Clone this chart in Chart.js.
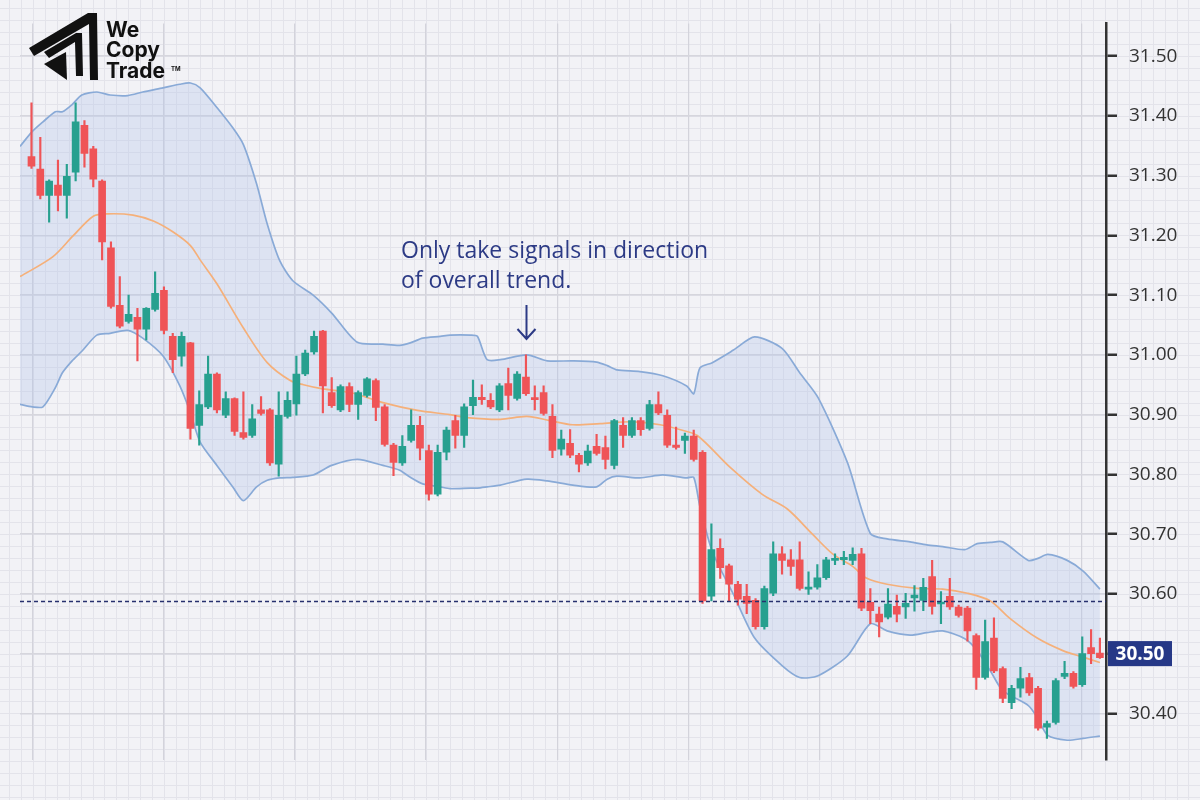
<!DOCTYPE html>
<html>
<head>
<meta charset="utf-8">
<title>Bollinger Bands – trend signals</title>
<script src="https://cdn.jsdelivr.net/npm/chart.js@4.4.1/dist/chart.umd.min.js"></script>
<style>
  html, body { margin: 0; padding: 0; background: #f2f2f6; }
  #wrap { width: 1200px; height: 800px; }
</style>
</head>
<body>
<div id="wrap"><canvas id="chart" width="1200" height="800"></canvas></div>
<script>
/* ---------- candle data (one entry per bar) ---------- */
const OPEN = [
  31.332, 31.311, 31.267, 31.284, 31.267, 31.306, 31.384, 31.345, 31.291, 31.179,
  31.083, 31.056, 31.063, 31.043, 31.076, 31.108, 31.031, 30.998, 31.020, 30.882,
  30.913, 30.968, 30.899, 30.927, 30.870, 30.865, 30.908, 30.908, 30.817, 30.897,
  30.918, 30.968, 31.005, 31.040, 30.937, 30.908, 30.947, 30.917, 30.932, 30.957,
  30.913, 30.849, 30.819, 30.857, 30.882, 30.840, 30.767, 30.837, 30.890, 30.865,
  30.915, 30.929, 30.924, 30.908, 30.952, 30.927, 30.963, 30.927, 30.937, 30.897,
  30.842, 30.852, 30.832, 30.819, 30.847, 30.845, 30.815, 30.882, 30.865, 30.890,
  30.877, 30.917, 30.899, 30.849, 30.857, 30.864, 30.837, 30.596, 30.676, 30.647,
  30.616, 30.596, 30.589, 30.545, 30.601, 30.667, 30.657, 30.657, 30.608, 30.611,
  30.627, 30.656, 30.657, 30.656, 30.667, 30.586, 30.566, 30.561, 30.579, 30.578,
  30.593, 30.589, 30.629, 30.583, 30.596, 30.578, 30.576, 30.530, 30.460, 30.526,
  30.475, 30.418, 30.442, 30.460, 30.442, 30.377, 30.385, 30.462, 30.467, 30.448,
  30.510, 30.501
];
const HIGH = [
  31.422, 31.364, 31.293, 31.326, 31.319, 31.422, 31.392, 31.349, 31.293, 31.189,
  31.131, 31.100, 31.078, 31.079, 31.139, 31.114, 31.036, 31.038, 31.021, 30.940,
  30.998, 30.970, 30.938, 30.928, 30.938, 30.917, 30.930, 30.910, 30.938, 30.938,
  30.998, 31.008, 31.040, 31.041, 30.962, 30.950, 30.953, 30.940, 30.962, 30.960,
  30.917, 30.852, 30.865, 30.908, 30.897, 30.849, 30.849, 30.879, 30.899, 30.918,
  30.958, 30.950, 30.935, 30.952, 30.978, 30.972, 31.000, 30.948, 30.948, 30.917,
  30.874, 30.875, 30.835, 30.849, 30.867, 30.864, 30.892, 30.895, 30.895, 30.895,
  30.924, 30.938, 30.908, 30.879, 30.869, 30.874, 30.840, 30.717, 30.692, 30.650,
  30.621, 30.616, 30.592, 30.613, 30.687, 30.679, 30.674, 30.687, 30.637, 30.649,
  30.661, 30.667, 30.671, 30.677, 30.676, 30.609, 30.578, 30.609, 30.598, 30.601,
  30.614, 30.626, 30.656, 30.604, 30.626, 30.581, 30.579, 30.533, 30.556, 30.560,
  30.478, 30.447, 30.477, 30.467, 30.445, 30.387, 30.458, 30.487, 30.470, 30.528,
  30.540, 30.526
];
const LOW = [
  31.312, 31.261, 31.222, 31.241, 31.229, 31.291, 31.314, 31.281, 31.159, 31.078,
  31.045, 31.053, 30.990, 31.025, 31.073, 31.035, 30.970, 30.981, 30.859, 30.849,
  30.910, 30.903, 30.895, 30.865, 30.859, 30.862, 30.899, 30.815, 30.797, 30.894,
  30.899, 30.965, 31.001, 30.903, 30.912, 30.905, 30.905, 30.892, 30.929, 30.890,
  30.847, 30.798, 30.815, 30.854, 30.824, 30.757, 30.764, 30.824, 30.844, 30.845,
  30.900, 30.917, 30.910, 30.905, 30.908, 30.924, 30.932, 30.908, 30.899, 30.828,
  30.832, 30.828, 30.804, 30.815, 30.832, 30.809, 30.809, 30.845, 30.862, 30.865,
  30.874, 30.900, 30.845, 30.842, 30.835, 30.822, 30.584, 30.588, 30.626, 30.588,
  30.581, 30.567, 30.541, 30.541, 30.597, 30.633, 30.631, 30.606, 30.599, 30.608,
  30.624, 30.649, 30.649, 30.649, 30.572, 30.550, 30.528, 30.558, 30.553, 30.559,
  30.571, 30.572, 30.566, 30.550, 30.574, 30.561, 30.521, 30.440, 30.457, 30.468,
  30.418, 30.408, 30.427, 30.430, 30.372, 30.358, 30.382, 30.458, 30.442, 30.445,
  30.483, 30.492
];
const CLOSE = [
  31.316, 31.267, 31.291, 31.267, 31.299, 31.390, 31.337, 31.294, 31.189, 31.081,
  31.048, 31.068, 31.043, 31.078, 31.103, 31.041, 30.992, 31.031, 30.877, 30.917,
  30.968, 30.908, 30.927, 30.872, 30.862, 30.893, 30.902, 30.819, 30.899, 30.924,
  30.968, 31.003, 31.031, 30.948, 30.915, 30.947, 30.917, 30.937, 30.960, 30.912,
  30.850, 30.820, 30.847, 30.882, 30.844, 30.767, 30.837, 30.874, 30.865, 30.913,
  30.929, 30.925, 30.913, 30.948, 30.932, 30.968, 30.935, 30.925, 30.902, 30.840,
  30.859, 30.832, 30.817, 30.839, 30.835, 30.825, 30.890, 30.865, 30.890, 30.875,
  30.917, 30.903, 30.849, 30.845, 30.864, 30.825, 30.588, 30.674, 30.644, 30.616,
  30.591, 30.584, 30.545, 30.609, 30.667, 30.656, 30.646, 30.609, 30.610, 30.627,
  30.657, 30.659, 30.661, 30.666, 30.576, 30.572, 30.553, 30.583, 30.566, 30.584,
  30.598, 30.611, 30.579, 30.586, 30.578, 30.564, 30.538, 30.460, 30.520, 30.471,
  30.425, 30.442, 30.458, 30.434, 30.375, 30.383, 30.455, 30.467, 30.445, 30.500,
  30.500, 30.493
];

const BAND_X = [
  -1.3, 0.1, 1.3, 2.7, 3.5, 4.6, 5.7, 7.4, 8.9, 10.9,
  12.6, 14.9, 16.8, 18.0, 19.1, 21.0, 22.8, 24.0, 25.5, 26.7,
  28.1, 29.6, 31.9, 34.0, 36.9, 39.8, 41.7, 42.9, 44.3, 46.3,
  47.4, 49.7, 50.5, 51.6, 53.1, 56.1, 58.4, 61.3, 64.0, 65.2,
  66.3, 68.9, 71.5, 74.2, 75.0, 75.7, 77.1, 79.5, 81.9, 85.0,
  87.0, 89.1, 92.4, 95.0, 96.9, 99.5, 101.4, 103.2, 105.7, 107.1,
  108.6, 110.0, 112.9, 113.9, 115.1, 117.3, 119.1, 121.0
];
const BAND_UPPER = [
  31.349, 31.374, 31.390, 31.407, 31.407, 31.419, 31.435, 31.440, 31.435, 31.434,
  31.440, 31.447, 31.453, 31.455, 31.447, 31.414, 31.380, 31.352, 31.286, 31.219,
  31.158, 31.124, 31.100, 31.070, 31.021, 31.018, 31.016, 31.020, 31.028, 31.031,
  31.033, 31.033, 31.031, 30.992, 30.992, 31.000, 30.990, 30.990, 30.988, 30.982,
  30.975, 30.972, 30.965, 30.948, 30.935, 30.978, 30.987, 31.008, 31.030, 31.011,
  30.970, 30.928, 30.820, 30.701, 30.692, 30.687, 30.682, 30.679, 30.674, 30.684,
  30.686, 30.687, 30.656, 30.659, 30.666, 30.656, 30.638, 30.608
];
const BAND_LOWER = [
  30.917, 30.913, 30.913, 30.945, 30.970, 30.990, 31.006, 31.033, 31.036, 31.041,
  31.028, 30.998, 30.948, 30.903, 30.854, 30.815, 30.779, 30.756, 30.779, 30.790,
  30.794, 30.795, 30.799, 30.815, 30.825, 30.815, 30.807, 30.795, 30.784, 30.779,
  30.776, 30.777, 30.777, 30.779, 30.782, 30.792, 30.789, 30.782, 30.779, 30.792,
  30.797, 30.794, 30.799, 30.794, 30.795, 30.746, 30.671, 30.599, 30.526, 30.480,
  30.460, 30.463, 30.496, 30.550, 30.538, 30.531, 30.535, 30.538, 30.525, 30.505,
  30.471, 30.438, 30.413, 30.393, 30.363, 30.355, 30.358, 30.362
];
const MID_X = [
  -1.3, 2.4, 4.7, 7.0, 8.6, 11.5, 13.8, 16.0, 18.0, 19.1,
  21.0, 24.0, 26.7, 29.3, 30.8, 33.0, 36.1, 39.8, 43.7, 47.4,
  49.3, 53.1, 56.1, 58.7, 61.3, 64.4, 68.1, 71.2, 73.4, 75.4,
  79.1, 82.8, 85.6, 88.5, 90.8, 93.0, 94.6, 96.9, 100.3, 103.2,
  106.0, 108.6, 110.8, 113.9, 116.8, 119.1, 121.0
];
const MID_Y = [
  31.131, 31.164, 31.199, 31.232, 31.236, 31.234, 31.224, 31.206, 31.183, 31.159,
  31.119, 31.045, 30.987, 30.957, 30.950, 30.943, 30.937, 30.920, 30.907, 30.900,
  30.895, 30.892, 30.897, 30.890, 30.883, 30.885, 30.888, 30.883, 30.875, 30.865,
  30.812, 30.766, 30.742, 30.699, 30.666, 30.646, 30.626, 30.616, 30.609, 30.608,
  30.601, 30.588, 30.559, 30.526, 30.505, 30.494, 30.485
];

const Y_TICKS = [30.40, 30.50, 30.60, 30.70, 30.80, 30.90, 31.00, 31.10, 31.20, 31.30, 31.40, 31.50];
const LAST_PRICE = 30.50;
const SUPPORT_LEVEL = 30.587;
const NOTE_LINES = ['Only take signals in direction', 'of overall trend.'];
const NOTE_BAR = 56;

/* layout bits */
const GRID_START = 0.17;
const GRID_STEP = 14.84;
const X_MIN = -1.3;
const X_MAX = 121.69;
const NAVY = '#2c3a85';
const RED = '#ef5457';
const GREEN = '#27a08f';

const idx = OPEN.map((_, i) => i);
const candleColors = idx.map(i => (CLOSE[i] >= OPEN[i] ? GREEN : RED));

const backdropPlugin = {
  id: 'backdrop',
  beforeDraw(chart) {
    const { ctx, scales: { x, y } } = chart;
    ctx.save();
    ctx.fillStyle = '#f2f2f6';
    ctx.fillRect(0, 0, chart.width, chart.height);
    ctx.strokeStyle = '#e3e3ea';
    ctx.lineWidth = 1;
    ctx.beginPath();
    for (let v = 30.0; v <= 31.8; v += 0.02) {
      const py = Math.round(y.getPixelForValue(v)) + 0.5;
      ctx.moveTo(0, py);
      ctx.lineTo(chart.width, py);
    }
    const minor = GRID_STEP / 11;
    for (let k = -3; k < 100; k++) {
      const px = Math.round(x.getPixelForValue(GRID_START + k * minor)) + 0.5;
      ctx.moveTo(px, 0);
      ctx.lineTo(px, chart.height);
    }
    ctx.stroke();
    ctx.restore();
  }
};

const overlayPlugin = {
  id: 'overlay',
  afterDraw(chart) {
    const { ctx, scales: { x, y } } = chart;
    ctx.save();

    // note + arrow
    ctx.fillStyle = NAVY;
    ctx.font = '23px "Open Sans"';
    ctx.textBaseline = 'middle';
    ctx.textAlign = 'left';
    ctx.fillText(NOTE_LINES[0], 401, 251);
    ctx.fillText(NOTE_LINES[1], 401, 281);

    const ax = Math.round(x.getPixelForValue(NOTE_BAR)) + 0.5;
    ctx.strokeStyle = NAVY;
    ctx.lineWidth = 2;
    ctx.beginPath();
    ctx.moveTo(ax, 305);
    ctx.lineTo(ax, 339);
    ctx.moveTo(ax - 9, 329);
    ctx.lineTo(ax, 339);
    ctx.lineTo(ax + 9, 329);
    ctx.stroke();

    // last price tag
    const py = y.getPixelForValue(LAST_PRICE);
    ctx.fillStyle = '#263887';
    ctx.fillRect(1108, py - 12.5, 64, 25);
    ctx.fillStyle = '#ffffff';
    ctx.font = 'bold 19px "Open Sans"';
    ctx.textAlign = 'center';
    ctx.fillText(LAST_PRICE.toFixed(2), 1140, py + 1);

    // logo
    ctx.fillStyle = '#111111';
    ctx.beginPath();
    ctx.moveTo(29, 48);
    ctx.lineTo(88, 13);
    ctx.lineTo(97, 13);
    ctx.lineTo(98, 80);
    ctx.lineTo(90, 80);
    ctx.lineTo(89, 24);
    ctx.lineTo(34, 56);
    ctx.closePath();
    ctx.fill();
    ctx.beginPath();
    ctx.moveTo(44, 52);
    ctx.lineTo(76, 33);
    ctx.lineTo(82, 33);
    ctx.lineTo(83, 76);
    ctx.lineTo(76, 76);
    ctx.lineTo(75, 42);
    ctx.lineTo(49, 58);
    ctx.closePath();
    ctx.fill();
    ctx.beginPath();
    ctx.moveTo(44, 64);
    ctx.lineTo(66, 52);
    ctx.lineTo(67, 80);
    ctx.closePath();
    ctx.fill();

    ctx.textAlign = 'left';
    ctx.textBaseline = 'alphabetic';
    ctx.font = 'bold 21px Inter';
    ctx.fillText('We', 106, 37);
    ctx.fillText('Copy', 106, 57);
    ctx.fillText('Trade', 106, 78);
    ctx.font = 'bold 6px Inter';
    ctx.fillText('TM', 171, 71);

    ctx.restore();
  }
};

function buildChart() {
  const ctx = document.getElementById('chart').getContext('2d');

  new Chart(ctx, {
    data: {
      datasets: [
        {
          type: 'line',
          data: BAND_X.map((v, i) => ({ x: v, y: BAND_UPPER[i] })),
          borderColor: '#89aad7',
          borderWidth: 1.7,
          backgroundColor: 'rgba(168, 192, 232, 0.28)',
          fill: { target: 1 },
          pointRadius: 0,
          tension: 0.25,
          order: 10
        },
        {
          type: 'line',
          data: BAND_X.map((v, i) => ({ x: v, y: BAND_LOWER[i] })),
          borderColor: '#89aad7',
          borderWidth: 1.7,
          fill: false,
          pointRadius: 0,
          tension: 0.25,
          order: 9
        },
        {
          type: 'line',
          data: MID_X.map((v, i) => ({ x: v, y: MID_Y[i] })),
          borderColor: '#f5b07a',
          borderWidth: 1.7,
          fill: false,
          pointRadius: 0,
          tension: 0.3,
          order: 8
        },
        {
          type: 'bar',
          data: idx.map(i => ({ x: i, y: [LOW[i], HIGH[i]] })),
          backgroundColor: candleColors,
          barThickness: 1.5,
          grouped: false,
          order: 3
        },
        {
          type: 'bar',
          data: idx.map(i => ({ x: i, y: [OPEN[i], CLOSE[i]] })),
          backgroundColor: candleColors,
          barThickness: 7,
          minBarLength: 2,
          grouped: false,
          order: 2
        },
        {
          type: 'line',
          data: [{ x: X_MIN, y: SUPPORT_LEVEL }, { x: X_MAX, y: SUPPORT_LEVEL }],
          borderColor: '#27306e',
          borderWidth: 1.5,
          borderDash: [4, 3],
          pointRadius: 0,
          fill: false,
          order: 1
        }
      ]
    },
    options: {
      responsive: false,
      animation: false,
      layout: { padding: { top: 18, left: 20, bottom: 40, right: 0 } },
      plugins: {
        legend: { display: false },
        tooltip: { enabled: false }
      },
      scales: {
        x: {
          type: 'linear',
          min: X_MIN,
          max: X_MAX,
          offset: false,
          afterBuildTicks: (s) => {
            s.ticks = [0, 1, 2, 3, 4, 5, 6, 7, 8].map(k => ({ value: GRID_START + k * GRID_STEP }));
          },
          afterFit: (s) => { s.height = 0; },
          ticks: { display: false },
          grid: { color: '#d3d3db', lineWidth: 1.2, drawTicks: false, offset: false },
          border: { display: false }
        },
        y: {
          position: 'right',
          min: 30.3219,
          max: 31.5548,
          afterBuildTicks: (s) => {
            s.ticks = Y_TICKS.map(v => ({ value: v }));
          },
          afterFit: (s) => { s.width = 94; },
          ticks: {
            padding: 12,
            color: '#333333',
            font: { family: 'Open Sans', size: 19 },
            callback: (v) => (Math.abs(v - LAST_PRICE) < 1e-6 ? '' : Number(v).toFixed(2))
          },
          grid: {
            color: '#d6d6dd',
            lineWidth: 1.5,
            tickLength: 11,
            tickColor: '#333333',
            tickWidth: 2.5
          },
          border: { display: true, color: '#333333', width: 2.5 }
        }
      }
    },
    plugins: [backdropPlugin, overlayPlugin]
  });
}

document.addEventListener('DOMContentLoaded', buildChart);
</script>
</body>
</html>
